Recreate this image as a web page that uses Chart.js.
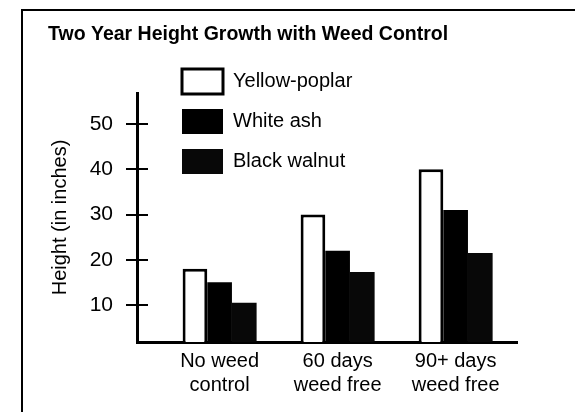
<!DOCTYPE html>
<html><head><meta charset="utf-8">
<script src="https://cdn.jsdelivr.net/npm/chart.js@4/dist/chart.umd.min.js"></script>
<style>
html,body{margin:0;padding:0;background:#fff;}
#wrap{position:relative;width:575px;height:412px;overflow:hidden;}
#frame{position:absolute;left:21px;top:9px;right:-4px;bottom:-4px;border-left:2px solid #000;border-top:2px solid #000;pointer-events:none;}
</style></head><body>
<div id="wrap"><canvas id="c"></canvas><div id="frame"></div></div>
<script>
const chartTitle = "Two Year Height Growth with Weed Control";
const yTitle = "Height (in inches)";
const categories = [["No weed", "control"], ["60 days", "weed free"], ["90+ days", "weed free"]];
const seriesNames = ["Yellow-poplar", "White ash", "Black walnut"];
const yellowPoplar = [18, 30, 40];
const whiteAsh = [15, 22, 31];
const blackWalnut = [10.5, 17.3, 21.5];
const yTicks = [10, 20, 30, 40, 50];

const FONT = "'Liberation Sans', Arial, Helvetica, sans-serif";
const Y_MIN = 1.8, Y_MAX = 56.9;

const toPoints = arr => arr.map((v, i) => ({x: i, y: v}));
const setYTicks = s => { s.ticks = yTicks.map(v => ({value: v})); };

const legendPlace = {
  id: 'legendPlace',
  afterLayout(chart) {
    const lg = chart.legend;
    if (!lg) return;
    lg.left = 167;
    lg.top = 54;
  }
};

new Chart(document.getElementById('c'), {
  type: 'bar',
  data: {
    datasets: [
      {label: seriesNames[0], data: toPoints(yellowPoplar), backgroundColor: '#ffffff', borderColor: '#000000', borderWidth: 3, borderSkipped: false, yAxisID: 'y'},
      {label: seriesNames[1], data: toPoints(whiteAsh), backgroundColor: '#000000', borderColor: '#000000', borderWidth: 0, yAxisID: 'y'},
      {label: seriesNames[2], data: toPoints(blackWalnut), backgroundColor: '#080808', borderColor: '#080808', borderWidth: 0, yAxisID: 'y'}
    ]
  },
  options: {
    responsive: true,
    maintainAspectRatio: false,
    animation: false,
    devicePixelRatio: 1,
    categoryPercentage: 0.627,
    barPercentage: 1,
    layout: {padding: {left: 48, top: 10, right: 58, bottom: 0}},
    font: {family: FONT},
    plugins: {
      tooltip: {enabled: false},
      title: {
        display: true, text: chartTitle, align: 'start', color: '#000',
        font: {family: FONT, size: 19.5, weight: 'bold'},
        padding: {top: 13.3, bottom: 46.3}
      },
      legend: {
        display: true, position: 'chartArea', align: 'start',
        labels: {
          color: '#000', font: {family: FONT, size: 20},
          boxWidth: 41, boxHeight: 25, padding: 15
        }
      }
    },
    scales: {
      x: {
        type: 'linear', min: -0.7, max: 2.52, offset: false,
        grid: {display: false, drawTicks: false},
        border: {display: true, color: '#000', width: 3},
        afterBuildTicks: s => { s.ticks = categories.map((_, i) => ({value: i})); },
        afterFit: s => { s.height = 70; },
        ticks: {
          callback: v => categories[v], color: '#000', padding: 7,
          font: {family: FONT, size: 20, lineHeight: 1.2},
          maxRotation: 0, minRotation: 0, autoSkip: false
        }
      },
      y: {
        type: 'linear', position: 'left', weight: 1, min: Y_MIN, max: Y_MAX,
        afterBuildTicks: setYTicks,
        afterFit: s => { s.width = 89; },
        grid: {drawOnChartArea: false, drawTicks: true, tickLength: 11, color: '#000', lineWidth: 2},
        border: {display: true, color: '#000', width: 3},
        ticks: {color: '#000', padding: 13, font: {family: FONT, size: 21}},
        title: {display: true, text: yTitle, color: '#000', padding: 0, font: {family: FONT, size: 20}}
      },
      y2: {
        type: 'linear', position: 'left', weight: 0, min: Y_MIN, max: Y_MAX,
        afterBuildTicks: setYTicks,
        afterFit: s => { s.width = 0; },
        grid: {drawOnChartArea: false, drawTicks: true, tickLength: -11, color: '#000', lineWidth: 2},
        border: {display: false},
        ticks: {display: false}
      }
    }
  },
  plugins: [legendPlace]
});
</script>
</body></html>
